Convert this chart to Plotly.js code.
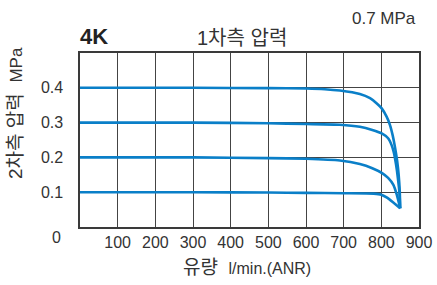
<!DOCTYPE html>
<html>
<head>
<meta charset="utf-8">
<script src="https://cdn.plot.ly/plotly-3.0.1.min.js"></script>
<style>html,body{margin:0;padding:0;background:#fff;}#chart{width:437px;height:285px;}</style>
</head>
<body>
<div id="chart"></div>
<script>
// Flow (l/min ANR) and secondary pressure (MPa)
const flow04 = [0, 300, 500, 600, 650, 690, 743, 770, 788, 801, 814, 823, 830, 836, 842, 846, 849, 850];
const pres04 = [0.4, 0.4, 0.399, 0.398, 0.396, 0.392, 0.382, 0.37, 0.355, 0.341, 0.317, 0.293, 0.264, 0.231, 0.19, 0.15, 0.1, 0.054];
const flow03 = [0, 300, 500, 600, 690, 743, 776, 801, 818, 827, 833, 839, 844, 848, 850];
const pres03 = [0.3, 0.3, 0.298, 0.296, 0.294, 0.288, 0.279, 0.269, 0.255, 0.236, 0.215, 0.18, 0.14, 0.1, 0.054];
const flow02 = [0, 300, 500, 600, 690, 743, 776, 802, 818, 832, 841, 846, 850];
const pres02 = [0.2, 0.2, 0.198, 0.196, 0.191, 0.181, 0.169, 0.155, 0.141, 0.121, 0.093, 0.072, 0.054];
const flow01 = [0, 300, 500, 600, 700, 780, 800, 814, 831, 850];
const pres01 = [0.1, 0.1, 0.099, 0.098, 0.097, 0.096, 0.093, 0.085, 0.071, 0.054];

const xTickVals = [100, 200, 300, 400, 500, 600, 700, 800, 900];
const xTickText = ['100', '200', '300', '400', '500', '600', '700', '800', '900'];
const yTickVals = [0.1, 0.2, 0.3, 0.4];
const yTickText = ['0.1', '0.2', '0.3', '0.4'];

const FONT = 'Liberation Sans, Noto Sans CJK KR, sans-serif';
const lineStyle = {color: '#0a7fc8', width: 2.6, shape: 'spline', smoothing: 0.5};
const series = [[flow04, pres04], [flow03, pres03], [flow02, pres02], [flow01, pres01]];
const traces = series.map(s => ({
  x: s[0], y: s[1], type: 'scatter', mode: 'lines', line: lineStyle,
  hoverinfo: 'skip', showlegend: false
}));

const layout = {
  width: 437, height: 285,
  margin: {l: 80, r: 18, t: 53, b: 58},
  paper_bgcolor: '#fff', plot_bgcolor: '#fff',
  font: {family: FONT, color: '#333', size: 16},
  xaxis: {
    range: [0, 900], tickvals: xTickVals, ticktext: xTickText,
    showgrid: true, gridcolor: '#444', gridwidth: 1,
    showline: true, linecolor: '#3a3a3a', linewidth: 1.6, mirror: true,
    zeroline: false, ticks: '', ticklen: 0,
    tickfont: {size: 16, color: '#333', family: FONT}, fixedrange: true
  },
  yaxis: {
    range: [0, 0.5], tickvals: yTickVals, ticktext: yTickText,
    showgrid: true, gridcolor: '#444', gridwidth: 1,
    showline: true, linecolor: '#3a3a3a', linewidth: 1.6, mirror: true,
    zeroline: false, ticks: 'outside', ticklen: 12, tickcolor: 'rgba(0,0,0,0)',
    tickfont: {size: 16, color: '#333', family: FONT}, fixedrange: true
  },
  annotations: [
    {text: '0', xref: 'paper', yref: 'paper', x: -0.068, y: -0.063, xanchor: 'center', yanchor: 'middle', showarrow: false, font: {size: 16, color: '#333'}},
    {text: '<b>4K</b>', xref: 'paper', yref: 'paper', x: -0.007, y: 1.01, xanchor: 'left', yanchor: 'bottom', showarrow: false, font: {size: 22, color: '#222'}},
    {text: '1차측 압력', xref: 'paper', yref: 'paper', x: 0.34, y: 1.01, xanchor: 'left', yanchor: 'bottom', showarrow: false, font: {size: 20, color: '#333'}},
    {text: '0.7 MPa', xref: 'paper', yref: 'paper', x: 0.997, y: 1.13, xanchor: 'right', yanchor: 'bottom', showarrow: false, font: {size: 17, color: '#333'}},
    {text: '2차측 압력  <span style="font-size:17px">MPa</span>', xref: 'paper', yref: 'paper', x: -0.192, y: 0.655, xanchor: 'center', yanchor: 'middle', textangle: -90, showarrow: false, font: {size: 19, color: '#333'}},
    {text: '유량  <span style="font-size:16px">l/min.(ANR)</span>', xref: 'paper', yref: 'paper', x: 0.494, y: -0.235, xanchor: 'center', yanchor: 'middle', showarrow: false, font: {size: 19, color: '#333'}}
  ]
};

Plotly.newPlot('chart', traces, layout, {staticPlot: true, displayModeBar: false});
</script>
</body>
</html>
